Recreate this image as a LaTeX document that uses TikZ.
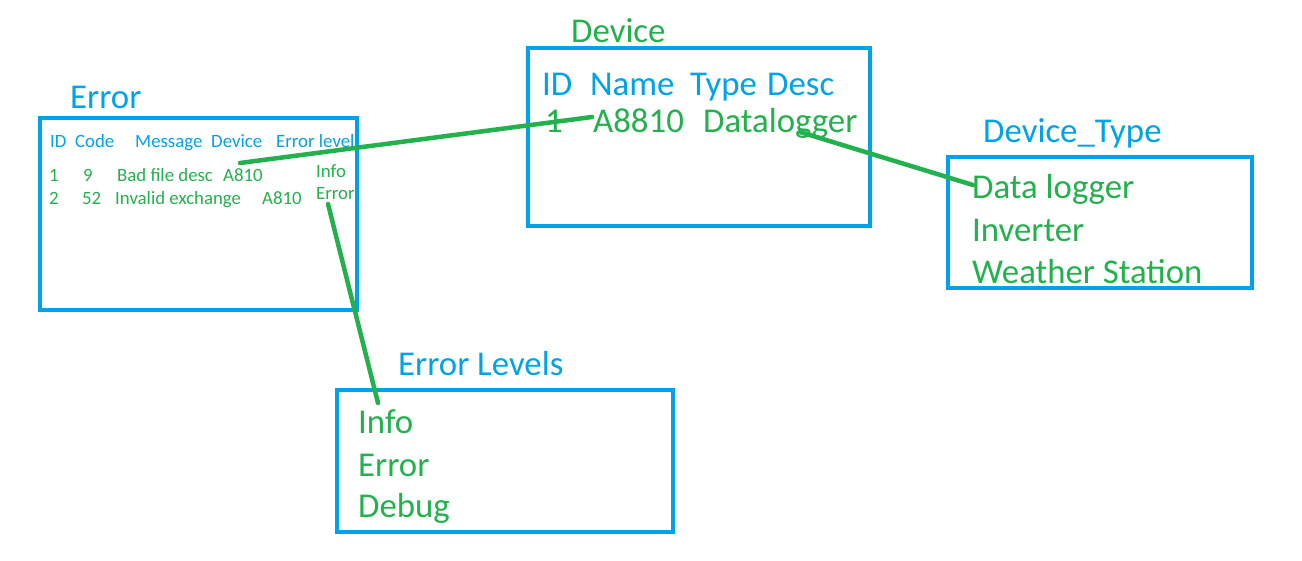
\documentclass[tikz,border=0pt]{standalone}
\usepackage{fontspec}
\setmainfont{Carlito}
\definecolor{pblue}{RGB}{0,162,232}
\definecolor{pgreen}{RGB}{34,177,76}
\begin{document}
\begin{tikzpicture}[x=1pt,y=-1pt,
  box/.style={draw=pblue, line width=4.5pt, anchor=north west, inner sep=0pt, outer sep=0pt},
  big/.style={font=\fontsize{34.8}{40}\selectfont, anchor=base west, inner sep=0pt},
  small/.style={font=\fontsize{18.8}{22}\selectfont, anchor=base west, inner sep=0pt},
  link/.style={draw=pgreen, line width=4.5pt, line cap=round}]
\useasboundingbox (0,0) rectangle (1302,560);
% boxes
\node[box, minimum width=317pt, minimum height=192pt] (errbox) at (40,118) {};
\node[box, minimum width=342pt, minimum height=178pt] (devbox) at (528,48) {};
\node[box, minimum width=304pt, minimum height=131pt] (dtbox) at (948,157) {};
\node[box, minimum width=336pt, minimum height=142pt] (elbox) at (337,390) {};
% titles
\node[big, text=pblue] (errtitle) at (70,108) {Error};
\node[big, text=pgreen] (devtitle) at (571,42) {Device};
\node[big, text=pblue] (dttitle) at (983,142) {Device\_Type};
\node[big, text=pblue] (eltitle) at (398,375) {Error Levels};
% error table
\node[small, text=pblue] (eh1) at (50,147) {ID};
\node[small, text=pblue] (eh2) at (75,147) {Code};
\node[small, text=pblue] (eh3) at (135,147) {Message};
\node[small, text=pblue] (eh4) at (211,147) {Device};
\node[small, text=pblue] (eh5) at (276,147) {Error level};
\node[small, text=pgreen] (e11) at (49,181) {1};
\node[small, text=pgreen] (e12) at (83,181) {9};
\node[small, text=pgreen] (e13) at (117,181) {Bad file desc};
\node[small, text=pgreen] (e14) at (223,181) {A810};
\node[small, text=pgreen] (e15) at (316,177) {Info};
\node[small, text=pgreen] (e21) at (49,204) {2};
\node[small, text=pgreen] (e22) at (82,204) {52};
\node[small, text=pgreen] (e23) at (115,204) {Invalid exchange};
\node[small, text=pgreen] (e24) at (262,204) {A810};
\node[small, text=pgreen] (e25) at (316,199) {Error};
% device table
\node[big, text=pblue] (dh1) at (542,95) {ID};
\node[big, text=pblue] (dh2) at (590,95) {Name};
\node[big, text=pblue] (dh3) at (690,95) {Type};
\node[big, text=pblue] (dh4) at (767,95) {Desc};
\node[big, text=pgreen] (d11) at (545,132) {1};
\node[big, text=pgreen] (d12) at (593,132) {A8810};
\node[big, text=pgreen] (d13) at (703,132) {Datalogger};
% device type
\node[big, text=pgreen] (t1) at (972,198) {Data logger};
\node[big, text=pgreen] (t2) at (972,241) {Inverter};
\node[big, text=pgreen] (t3) at (972,283) {Weather Station};
% error levels
\node[big, text=pgreen] (l1) at (358,433) {Info};
\node[big, text=pgreen] (l2) at (358,476) {Error};
\node[big, text=pgreen] (l3) at (358,517) {Debug};
% connector ends
\coordinate (c1a) at (240,163);
\coordinate (c1b) at (592,117);
\coordinate (c2a) at (800,132);
\coordinate (c2b) at (973,185);
\coordinate (c3a) at (328,204);
\coordinate (c3b) at (378,403);
\draw[link] (c1a) -- (c1b);
\draw[link] (c2a) -- (c2b);
\draw[link] (c3a) -- (c3b);
\end{tikzpicture}
\end{document}
